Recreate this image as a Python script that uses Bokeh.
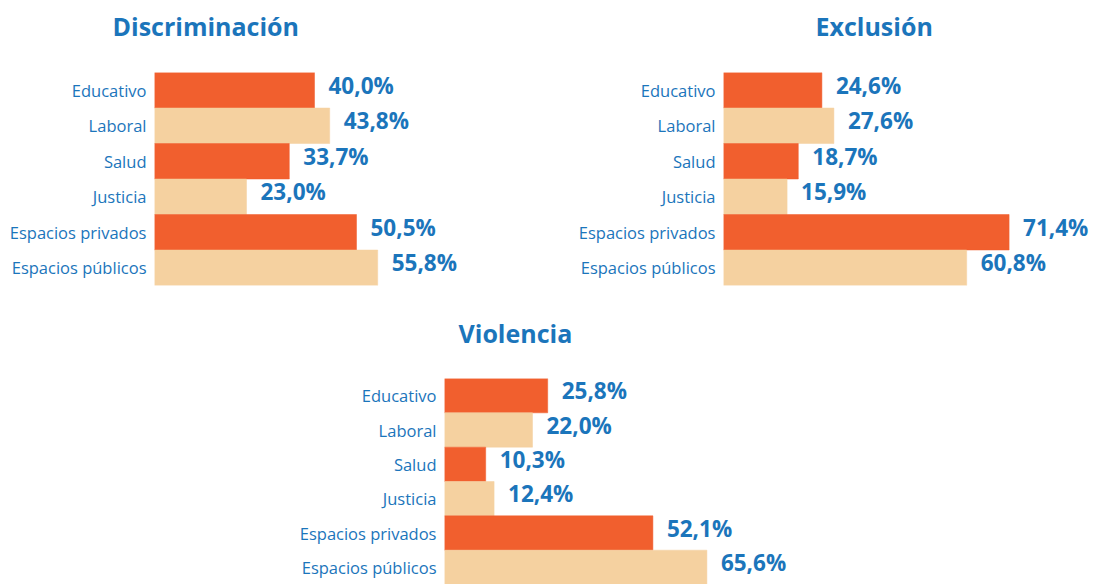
from bokeh.plotting import figure
from bokeh.models import FactorRange, Range1d, ColumnDataSource, LabelSet, Title, Spacer
from bokeh.layouts import row, column
from bokeh.core.properties import value
from bokeh.embed import file_html
from bokeh.resources import INLINE

categories = ["Educativo", "Laboral", "Salud", "Justicia", "Espacios privados", "Espacios públicos"]
discriminacion = [40.0, 43.8, 33.7, 23.0, 50.5, 55.8]
exclusion = [24.6, 27.6, 18.7, 15.9, 71.4, 60.8]
violencia = [25.8, 22.0, 10.3, 12.4, 52.1, 65.6]
titles = ["Discriminación", "Exclusión", "Violencia"]

ORANGE = "#F15F2E"
PEACH = "#F5D1A0"
BLUE = "#1B75BB"
bar_colors = [ORANGE, PEACH] * 3
FONT = "Open Sans"
PX = 4.0  # pixels per percent


def panel(title, values, x_max, b_left, b_top, b_bottom, frame_h, title_off, gap):
    labels = [f"{v:.1f}".replace(".", ",") + "%" for v in values]
    src = ColumnDataSource(dict(cat=categories, val=values, color=bar_colors, lab=labels))
    p = figure(y_range=FactorRange(factors=categories[::-1]), x_range=Range1d(0, x_max),
               frame_width=int(round(x_max * PX)), frame_height=frame_h,
               min_border_left=b_left, min_border_right=0,
               min_border_top=b_top, min_border_bottom=b_bottom,
               x_axis_location=None, toolbar_location=None, output_backend="svg")
    p.outline_line_color = None
    p.grid.visible = False
    p.hbar(y="cat", left=0, right="val", height=1.0, fill_color="color",
           line_color="color", line_width=0.5, source=src)
    p.add_layout(LabelSet(x="val", y="cat", text="lab", source=src, x_offset=14, y_offset=5,
                          text_baseline="middle", text_align="left",
                          text_font=value(FONT), text_font_style="bold",
                          text_font_size="22.5px", text_color=BLUE))
    # blank gap between bars and title (nearest to the frame)
    p.add_layout(Title(text=" ", standoff=gap, text_font_size="10px"), "above")
    # panel title (outer)
    p.add_layout(Title(text=title, align="left", offset=title_off,
                       vertical_align="middle", standoff=0,
                       text_font=FONT, text_font_style="bold",
                       text_font_size="25px", text_color=BLUE), "above")
    ax = p.yaxis[0]
    ax.axis_line_color = None
    ax.major_tick_line_color = None
    ax.minor_tick_line_color = None
    ax.major_tick_out = 0
    ax.major_tick_in = 0
    ax.major_label_standoff = 8
    ax.major_label_text_font = FONT
    ax.major_label_text_font_size = "16.5px"
    ax.major_label_text_color = BLUE
    return p


p1 = panel(titles[0], discriminacion, 100.0, 154, 72, 15, 213, -42, 16)
p2 = panel(titles[1], exclusion, 93.25, 169, 72, 15, 213, 92, 16)
p3 = panel(titles[2], violencia, 100.0, 154, 78, 0, 206, 14, 15)

layout = column(row(p1, p2), row(Spacer(width=290, height=1), p3))

open("out.html", "w").write(file_html(layout, INLINE))
